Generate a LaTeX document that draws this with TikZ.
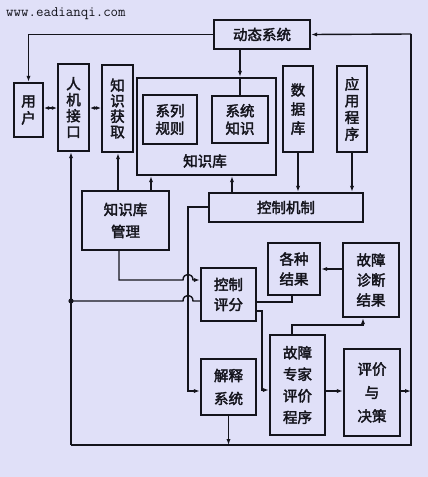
\documentclass[tikz,border=0pt]{standalone}
\usepackage{fontspec}
\newfontfamily\cjk{Noto Sans CJK SC}[FakeBold=2.5]
\usetikzlibrary{arrows.meta}
\definecolor{bg}{RGB}{224,224,248}
\definecolor{ink}{RGB}{20,20,28}
\begin{document}
\begin{tikzpicture}[x=1pt,y=-1pt,
  box/.style={draw=ink, line width=2.2pt, inner sep=0pt, align=center, text=ink},
  ls/.style={font=\cjk\fontsize{14.5}{#1}\selectfont},
  ln/.style={draw=ink, line width=1.4pt},
  arr/.style={ln, -{Latex[length=6pt,width=4.2pt]}},
  darr/.style={ln, {Latex[length=5pt,width=4pt]}-{Latex[length=5pt,width=4pt]}}]
\fill[bg] (0,0) rectangle (428,477);
\useasboundingbox (0,0) rectangle (428,477);
\node[anchor=west, inner sep=0pt, font=\ttfamily\fontsize{14.5}{15}\selectfont, text=ink] (wm) at (6,14) {www.eadianqi.com};
% boxes
\node[box, ls=17, minimum width=96, minimum height=29] (dyn) at (262,34.5) {动态系统};
\node[box, ls=17, minimum width=29, minimum height=54] (user) at (28.5,110) {用\\户};
\node[box, ls=16, minimum width=31, minimum height=87] (hmi) at (73.5,107.5) {人\\机\\接\\口};
\node[box, ls=15.5, minimum width=31, minimum height=87] (kacq) at (117.5,108.5) {知\\识\\获\\取};
\node[box, minimum width=139, minimum height=97] (kb) at (206.5,126.5) {};
\node[ls=17, text=ink] (kbl) at (205,161) {知识库};
\node[box, ls=17.5, minimum width=54, minimum height=49] (rules) at (170,119.5) {系列\\规则};
\node[box, ls=17.5, minimum width=56, minimum height=47] (sysk) at (240,119.5) {系统\\知识};
\node[box, ls=19, minimum width=30, minimum height=86] (db) at (298,109) {数\\据\\库};
\node[box, ls=16.7, minimum width=30, minimum height=86] (app) at (352,109) {应\\用\\程\\序};
\node[box, ls=17, minimum width=154, minimum height=29] (ctrl) at (286,207.5) {控制机制};
\node[box, ls=22, minimum width=87, minimum height=59] (kbm) at (125.5,220.5) {知识库\\管理};
\node[box, ls=20, minimum width=55, minimum height=53] (score) at (228.5,294.5) {控制\\评分};
\node[box, ls=20, minimum width=52, minimum height=52] (res) at (294,269) {各种\\结果};
\node[box, ls=20, minimum width=56, minimum height=74] (diag) at (371,280) {故障\\诊断\\结果};
\node[box, ls=23, minimum width=55, minimum height=56] (expl) at (228.5,387) {解释\\系统};
\node[box, ls=21.5, minimum width=55, minimum height=100] (exp) at (297.5,385) {故障\\专家\\评价\\程序};
\node[box, ls=23.5, minimum width=56, minimum height=87] (dec) at (372,392.5) {评价\\与\\决策};
% coordinates
\coordinate (bl) at (71,445);
\coordinate (br) at (411,445);
\coordinate (tr) at (411,34);
\coordinate (jn) at (71,301);
\coordinate (vx) at (188,207);
% top loop
\draw[arr] (dyn.west) -| (user.north);
\draw[darr] (user.east |- 0,108) -- (hmi.west |- 0,108);
\draw[darr] (hmi.east |- 0,108) -- (kacq.west |- 0,108);
\draw[arr] (dyn.south -| 240,0) -- (240,0 |- kb.north);
\draw[ln] (240,0 |- kb.north) -- (sysk.north);
\draw[ln] (bl) -- (br) -- (tr);
\draw[arr] (tr) -- (dyn.east);
\draw[arr] (bl) -- (bl |- hmi.south);
\fill[ink] (jn) circle (2.6);
% knowledge base management
\draw[arr] (118,0 |- kbm.north) -- (118,0 |- kacq.south);
\draw[arr] (151,0 |- kbm.north) -- (151,0 |- kb.south);
\draw[arr] (232,0 |- ctrl.north) -- (232,0 |- kb.south);
\draw[arr] (db.south) -- (db.south |- ctrl.north);
\draw[arr] (app.south) -- (app.south |- ctrl.north);
% control mechanism to explanation
\draw[arr] (ctrl.west |- vx) -- (vx) -- (188,391) -- (expl.west |- 0,391);
% lines into control scoring with hops
\draw[arr] (119,0 |- kbm.south) -- (119,280) -- (183,280) .. controls (183,272.5) and (193,272.5) .. (193,280) -- (score.west |- 0,280);
\draw[ln] (jn) -- (183,301) .. controls (183,293.5) and (193,293.5) .. (193,301) -- (score.west |- 0,301);
% scoring to results
\draw[ln] (score.east |- 0,302) -- (292,302) -- (292,0 |- res.south);
\draw[arr] (diag.west |- res.east) -- (res.east);
\draw[arr] (score.east |- 0,311) -- (262,311) -- (262,390) -- (exp.west |- 0,390);
\draw[arr] (292,0 |- exp.north) -- (292,325) -- (363,325) -- (363,0 |- diag.south);
\draw[arr] (exp.east |- 0,391) -- (dec.west |- 0,391);
\draw[arr] (dec.east |- 0,391) -- (br |- 0,391);
\draw[arr] (expl.south) -- (expl.south |- bl);
\end{tikzpicture}
\end{document}
